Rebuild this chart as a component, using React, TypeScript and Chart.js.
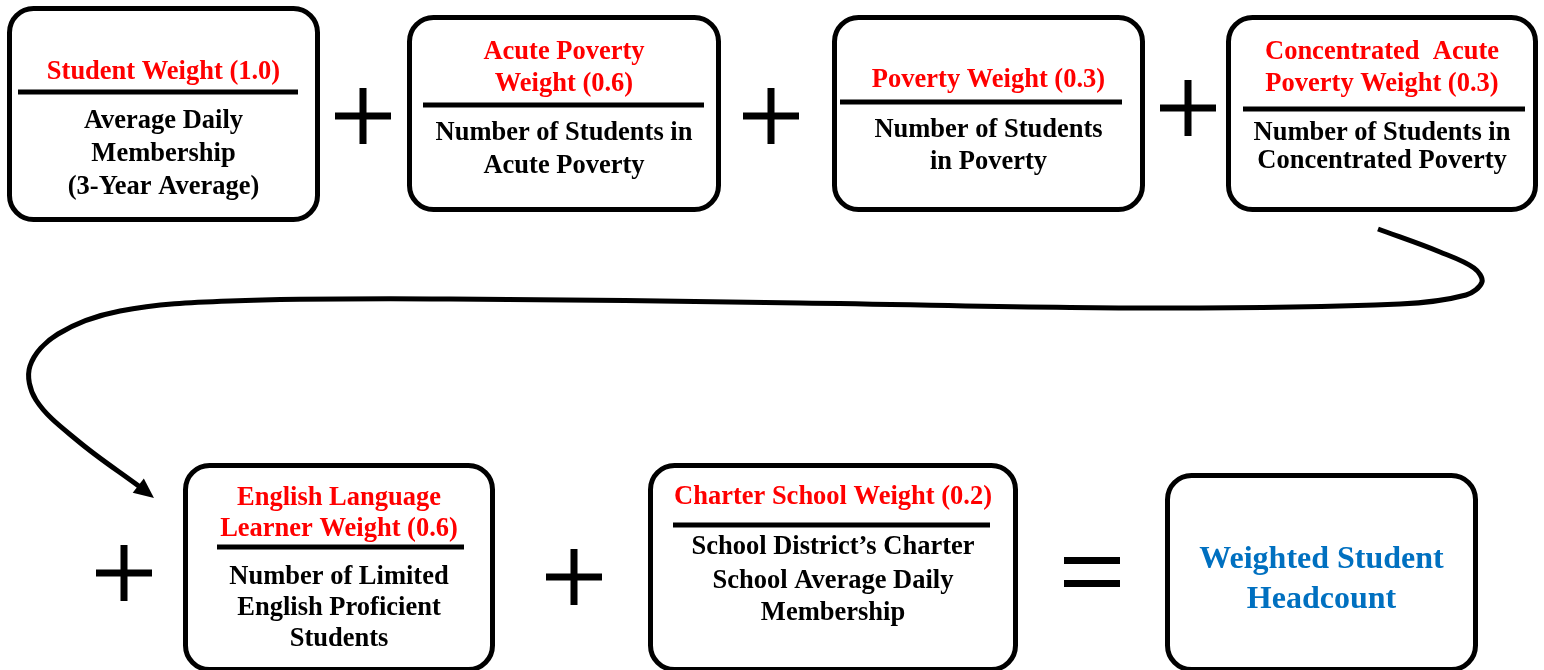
import React, { useEffect, useRef } from "react";
import { Chart, registerables } from "chart.js";

Chart.register(...registerables);

// ---------- DATA ----------
const weightNames: string[][] = [
  ["Student Weight"],
  ["Acute Poverty", "Weight"],
  ["Poverty Weight"],
  ["Concentrated  Acute", "Poverty Weight"],
  ["English Language", "Learner Weight"],
  ["Charter School Weight"],
];
const weightValues: number[] = [1.0, 0.6, 0.3, 0.3, 0.6, 0.2];
const countDescriptions: string[][] = [
  ["Average Daily", "Membership", "(3-Year Average)"],
  ["Number of Students in", "Acute Poverty"],
  ["Number of Students", "in Poverty"],
  ["Number of Students in", "Concentrated Poverty"],
  ["Number of Limited", "English Proficient", "Students"],
  ["School District\u2019s Charter", "School Average Daily", "Membership"],
];
const resultLines: string[] = ["Weighted Student", "Headcount"];
const operators: string[] = ["+", "+", "+", "+", "+", "="];

// ---------- LAYOUT (diagram units, 0..1544 x 0..670) ----------
const W = 1544;
const H = 670;
const boxRects: number[][] = [
  [7, 6, 320, 222],
  [407, 15, 721, 212],
  [832, 15, 1145, 212],
  [1226, 15, 1538, 212],
  [183, 463, 495, 672],
  [648, 463, 1018, 672],
  [1165, 473, 1478, 672],
];
const dividers: number[][] = [
  [92, 18, 298],
  [105, 423, 704],
  [102, 840, 1122],
  [109, 1243, 1525],
  [547, 217, 464],
  [525, 673, 990],
];
const titleYs: number[][] = [[71], [51, 83], [79], [51, 83], [497, 528], [496]];
const descYs: number[][] = [
  [120, 153, 186],
  [132, 165],
  [129, 161],
  [132, 160],
  [576, 607, 638],
  [546, 580, 612],
];
const resultYs: number[] = [558, 598];
const operatorPos: number[][] = [
  [363, 116],
  [771, 116],
  [1188, 108],
  [124, 573],
  [574, 577],
  [1092, 572],
];
const connectorPath: number[][] = [
  [1378, 229],
  [1440, 252],
  [1474, 268],
  [1482, 282],
  [1466, 295],
  [1400, 304],
  [1150, 308],
  [800, 303],
  [450, 299],
  [230, 301],
  [120, 311],
  [58, 334],
  [30, 366],
  [36, 400],
  [78, 441],
  [140, 487],
];
const arrowTip: number[] = [154, 498];
const TEXT_DY = 1.5;

const RED = "#FF0000";
const BLUE = "#0070C0";
const FONT = "'Liberation Serif', 'Times New Roman', serif";

const diagramPlugin = {
  id: "diagram",
  afterDatasetsDraw(chart: any) {
    const ctx: CanvasRenderingContext2D = chart.ctx;
    const xs = chart.scales.x;
    const ys = chart.scales.y;
    const px = (v: number) => xs.getPixelForValue(v);
    const py = (v: number) => ys.getPixelForValue(v);
    ctx.save();

    ctx.strokeStyle = "#000";
    ctx.lineWidth = 5;
    boxRects.forEach((r) => {
      const x0 = px(r[0]) + 2.5;
      const y0 = py(r[1]) + 2.5;
      const x1 = px(r[2]) - 2.5;
      const y1 = py(r[3]) - 2.5;
      ctx.beginPath();
      (ctx as any).roundRect(x0, y0, x1 - x0, y1 - y0, 24);
      ctx.stroke();
    });

    dividers.forEach((d) => {
      ctx.beginPath();
      ctx.moveTo(px(d[1]), py(d[0]));
      ctx.lineTo(px(d[2]), py(d[0]));
      ctx.stroke();
    });

    ctx.textAlign = "center";
    ctx.textBaseline = "middle";

    weightNames.forEach((name, i) => {
      const r = boxRects[i];
      const cx = px((r[0] + r[2]) / 2);
      const lines = name.slice();
      lines[lines.length - 1] = `${lines[lines.length - 1]} (${weightValues[i].toFixed(1)})`;
      ctx.font = `bold 26.5px ${FONT}`;
      ctx.fillStyle = RED;
      lines.forEach((t, j) => ctx.fillText(t, cx, py(titleYs[i][j]) + TEXT_DY));
      ctx.fillStyle = "#000";
      countDescriptions[i].forEach((t, j) => ctx.fillText(t, cx, py(descYs[i][j]) + TEXT_DY));
    });

    const rr = boxRects[6];
    ctx.fillStyle = BLUE;
    ctx.font = `bold 32px ${FONT}`;
    resultLines.forEach((t, j) =>
      ctx.fillText(t, px((rr[0] + rr[2]) / 2), py(resultYs[j]) + TEXT_DY)
    );

    ctx.fillStyle = "#000";
    operators.forEach((op, i) => {
      const cx = px(operatorPos[i][0]);
      const cy = py(operatorPos[i][1]);
      if (op === "+") {
        ctx.fillRect(cx - 28, cy - 3.5, 56, 7);
        ctx.fillRect(cx - 3.5, cy - 28, 7, 56);
      } else {
        ctx.fillRect(cx - 28, cy - 15, 56, 7);
        ctx.fillRect(cx - 28, cy + 8, 56, 7);
      }
    });

    const last = connectorPath[connectorPath.length - 1];
    const tx = px(arrowTip[0]);
    const ty = py(arrowTip[1]);
    const ang = Math.atan2(ty - py(last[1]), tx - px(last[0]));
    const len = 20;
    const hw = 9;
    ctx.beginPath();
    ctx.moveTo(tx, ty);
    ctx.lineTo(tx - len * Math.cos(ang) + hw * Math.sin(ang), ty - len * Math.sin(ang) - hw * Math.cos(ang));
    ctx.lineTo(tx - len * Math.cos(ang) - hw * Math.sin(ang), ty - len * Math.sin(ang) + hw * Math.cos(ang));
    ctx.closePath();
    ctx.fill();

    ctx.restore();
  },
};

export default function App() {
  const ref = useRef<HTMLCanvasElement | null>(null);
  useEffect(() => {
    document.body.style.margin = "0";
    document.body.style.background = "#fff";
    if (!ref.current) return;
    const chart = new Chart(ref.current, {
      type: "scatter",
      data: {
        datasets: [
          {
            type: "line",
            data: connectorPath.map(([x, y]) => ({ x, y })),
            borderColor: "#000",
            borderWidth: 5,
            pointRadius: 0,
            tension: 0.35,
            fill: false,
            borderCapStyle: "butt",
          } as any,
        ],
      },
      options: {
        animation: false,
        responsive: false,
        maintainAspectRatio: false,
        layout: { padding: 0 },
        plugins: {
          legend: { display: false },
          tooltip: { enabled: false },
        },
        scales: {
          x: { type: "linear", min: 0, max: W, display: false },
          y: { type: "linear", min: 0, max: H, reverse: true, display: false },
        },
      },
      plugins: [diagramPlugin],
    });
    return () => chart.destroy();
  }, []);
  return (
    <div style={{ width: W, height: H, background: "#fff" }}>
      <canvas ref={ref} width={W} height={H} style={{ display: "block" }} />
    </div>
  );
}
